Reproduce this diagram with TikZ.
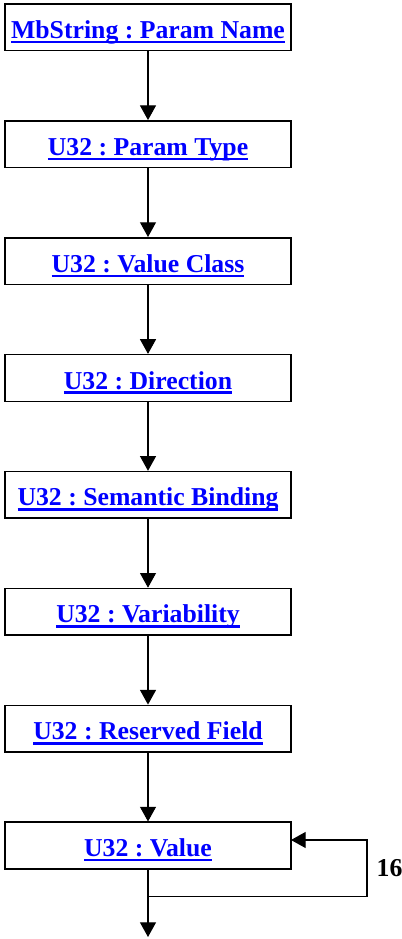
\documentclass[tikz,border=0pt]{standalone}
\usepackage{fontspec}
\setmainfont{Liberation Serif}
\usetikzlibrary{arrows.meta}
\definecolor{linkblue}{RGB}{0,0,255}
\frenchspacing
\newcommand{\fieldtxt}[1]{\textcolor{linkblue}{\setbox0\hbox{#1}\rlap{\rule[-3.6pt]{\wd0}{1.8pt}}\box0}}

\begin{document}
\begin{tikzpicture}[x=0.75pt,y=0.75pt,yscale=-1,xscale=1,
  field/.style={draw, line width=1.2pt, minimum width=214.5pt, minimum height=35pt, inner sep=0pt,
    text height=16.5pt, text depth=0pt, font=\fontsize{19.3}{23}\selectfont\bfseries},
  flow/.style={-{Triangle[width=12pt,length=11pt]}, line width=0.8pt}]
\useasboundingbox (0,0) rectangle (402,939);

% Fields
\node [field] (pname) at (148,27.3) {\fieldtxt{MbString : Param Name}};
\node [field] (ptype) at (148,144.2) {\fieldtxt{U32 : Param Type}};
\node [field] (vclass) at (148,261.1) {\fieldtxt{U32 : Value Class}};
\node [field] (dir) at (148,378) {\fieldtxt{U32 : Direction}};
\node [field] (sbind) at (148,494.9) {\fieldtxt{U32 : Semantic Binding}};
\node [field] (vari) at (148,611.8) {\fieldtxt{U32 : Variability}};
\node [field] (resv) at (148,728.7) {\fieldtxt{U32 : Reserved Field}};
\node [field] (val) at (148,845.6) {\fieldtxt{U32 : Value}};

% Flow between fields
\draw [flow] (pname) -- (ptype);
\draw [flow] (ptype) -- (vclass);
\draw [flow] (vclass) -- (dir);
\draw [flow] (dir) -- (sbind);
\draw [flow] (sbind) -- (vari);
\draw [flow] (vari) -- (resv);
\draw [flow] (resv) -- (val);

% Repeat loop
\coordinate (loopin) at (291,840);
\coordinate (loopjoin) at (148,896.7);
\coordinate (nextfld) at (148,937);
\draw [flow] (val) -- (nextfld);
\draw [flow] (loopjoin) -| (367,840) -- (loopin);
\node [font=\fontsize{19.3}{23}\selectfont\bfseries, anchor=west] (count) at (372,868) {16};

\end{tikzpicture}
\end{document}
